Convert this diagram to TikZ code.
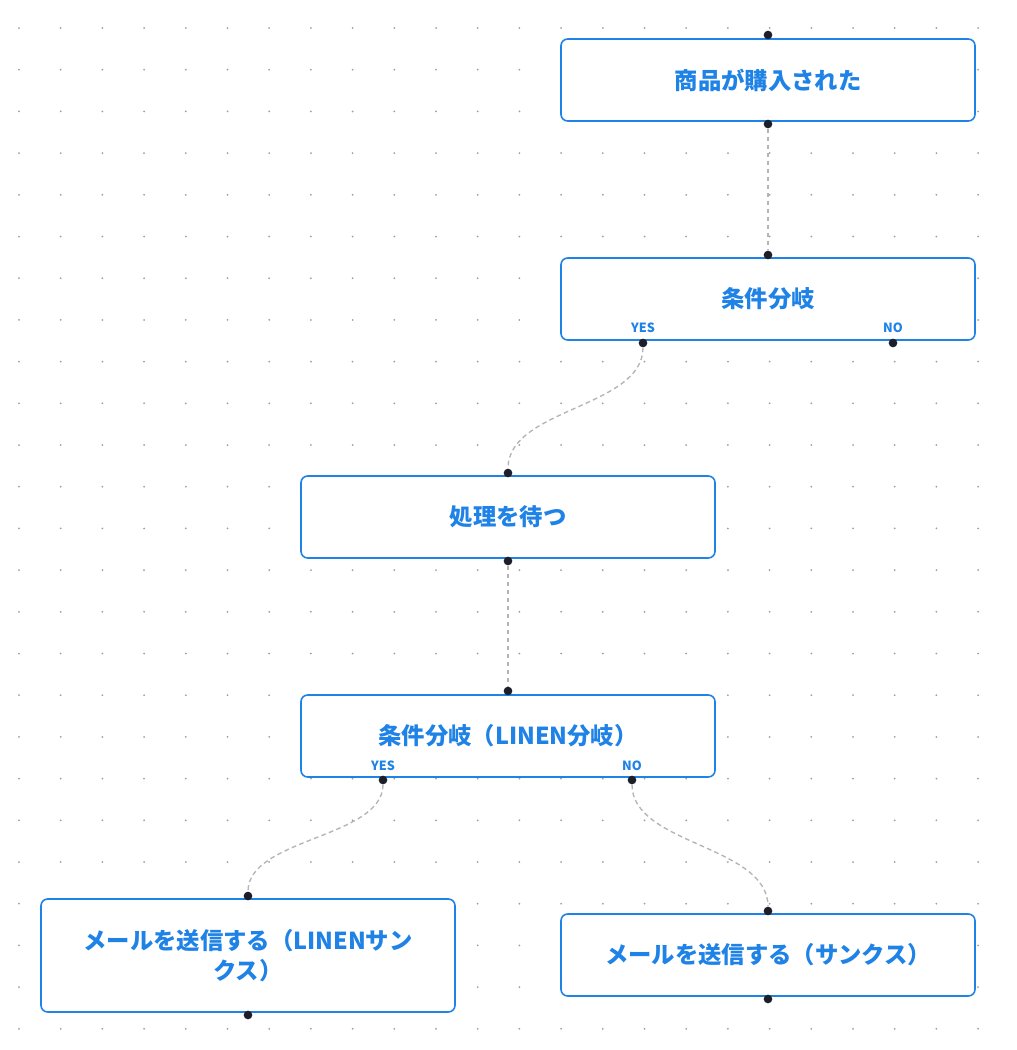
\documentclass[tikz,border=0pt]{standalone}
\usepackage{fontspec}
\setmainfont{Noto Sans CJK JP}
\usetikzlibrary{calc}
\definecolor{blu}{HTML}{1E82E6}
\definecolor{conn}{HTML}{B4B4B4}
\definecolor{dk}{HTML}{1C1F2A}
\tikzset{
 box/.style={draw=blu,line width=1.2pt,rounded corners=5pt,fill=white,minimum width=310.5pt,minimum height=61.5pt,align=center,text=blu,font=\fontsize{17.5}{23}\selectfont\bfseries,text width=290pt},
 lab/.style={text=blu,font=\fontsize{9.5}{10}\selectfont\bfseries,inner sep=0pt},
 port/.style={circle,fill=dk,inner sep=0pt,minimum size=6.5pt},
 conn/.style={draw=conn,line width=1pt,dash pattern=on 3.5pt off 2.5pt},
}
\begin{document}
\begin{tikzpicture}[x=0.75pt,y=-0.75pt]
\useasboundingbox (0,0) rectangle (1017,1050);
\fill[white] (0,0) rectangle (1017,1050);
\foreach \i in {0,...,24}{\foreach \j in {0,...,24}{
 \fill[gray!75] ({19+41.7*\i},{28+41.7*\j}) circle (1.0);}}
\node[box] (A) at (768,80) {商品が購入された};
\node[box] (B) at (768,299) {条件分岐};
\node[box] (C) at (508,517) {処理を待つ};
\node[box] (D) at (508,736) {条件分岐（LINEN分岐）};
\node[box,minimum height=84.75pt] (E) at (248,955.5) {メールを送信する（LINENサン\\クス）};
\node[box] (F) at (768,955) {メールを送信する（サンクス）};
\node[lab] at (643,328) {YES};
\node[lab] at (893,328) {NO};
\node[lab] at (383,766) {YES};
\node[lab] at (632,766) {NO};
\node[port] (a1) at (768,35) {};
\node[port] (a2) at (768,124) {};
\node[port] (b1) at (768,255) {};
\node[port] (by) at (643,343) {};
\node[port] (bn) at (893,343) {};
\node[port] (c1) at (508,473) {};
\node[port] (c2) at (508,561) {};
\node[port] (d1) at (508,691) {};
\node[port] (dy) at (383,780) {};
\node[port] (dn) at (632,780) {};
\node[port] (e1) at (248,896) {};
\node[port] (e2) at (248,1015) {};
\node[port] (f1) at (768,911) {};
\node[port] (f2) at (768,999) {};
\draw[conn] (a2) -- (b1);
\draw[conn] (by) .. controls (643,408) and (508,408) .. (c1);
\draw[conn] (c2) -- (d1);
\draw[conn] (dy) .. controls (383,838) and (248,838) .. (e1);
\draw[conn] (dn) .. controls (632,845) and (768,845) .. (f1);
\end{tikzpicture}
\end{document}
